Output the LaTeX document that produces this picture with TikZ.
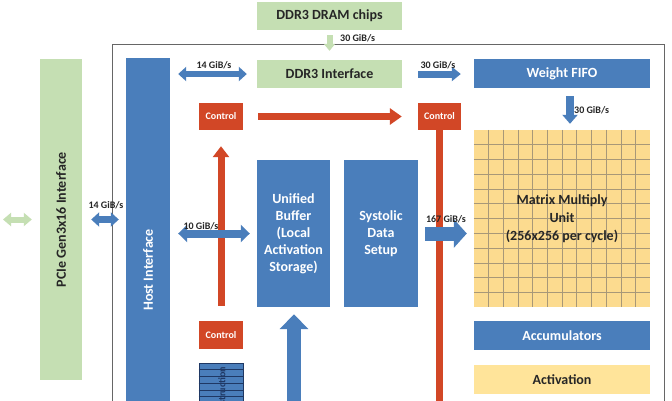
\documentclass[tikz,border=0pt]{standalone}
\usepackage{fontspec}
\setmainfont{Carlito}
\usetikzlibrary{arrows.meta,calc}
\definecolor{bblue}{HTML}{4A7EBB}
\definecolor{lgreen}{HTML}{C5DFB3}
\definecolor{myyel}{HTML}{FCDB8F}
\definecolor{actyel}{HTML}{FFE49A}
\definecolor{cred}{HTML}{D24726}
\definecolor{gridc}{HTML}{A89878}
\definecolor{dtext}{HTML}{262626}
\definecolor{dblue}{HTML}{1F3864}
\begin{document}
\begin{tikzpicture}[x=1pt,y=-1pt,
  box/.style={inner sep=0pt, align=center, font=\bfseries\fontsize{14}{17}\selectfont},
  bbox/.style={box, fill=bblue, text=white},
  gbox/.style={box, fill=lgreen, text=dtext},
  ybox/.style={box, fill=actyel, text=dtext},
  ctl/.style={inner sep=0pt, fill=cred, text=white, font=\bfseries\fontsize{10}{11}\selectfont, minimum width=44pt, minimum height=27pt},
  lbl/.style={inner sep=0pt, text=dtext, font=\bfseries\fontsize{10}{11}\selectfont},
  ba/.style args={#1/#2/#3/#4}{draw=#4, line width=#1, -{Triangle[width=#2,length=#3]}},
  bda/.style args={#1/#2/#3/#4}{draw=#4, line width=#1, {Triangle[width=#2,length=#3]}-{Triangle[width=#2,length=#3]}},
]
\useasboundingbox (0,0) rectangle (672,400);
\clip (0,0) rectangle (672,400);
\fill[white] (0,0) rectangle (672,400);

% outer frame
\draw[gray!80!black, line width=0.8pt] (112,44) rectangle (664,430);

% top memory
\node[gbox, minimum width=145pt, minimum height=28pt] (dram) at (329.5,16) {DDR3 DRAM chips};
\node[gbox, minimum width=145pt, minimum height=28pt] (ddr) at (329.5,74) {DDR3 Interface};

% PCIe and host
\node[fill=lgreen, inner sep=0pt, minimum width=42pt, minimum height=321pt] (pcie) at (61,219.5) {};
\node[box, rotate=90, text=dtext] (pcielbl) at (pcie.center) {PCIe Gen3x16 Interface};
\node[fill=bblue, inner sep=0pt, minimum width=44pt, minimum height=372pt] (host) at (148,244) {};
\node[box, rotate=90, text=white] (hostlbl) at (148,270) {Host Interface};

% right column
\node[bbox, minimum width=176pt, minimum height=29pt] (wfifo) at (562,73.5) {Weight FIFO};
\node[fill=myyel, inner sep=0pt, minimum width=176pt, minimum height=177pt] (mmu) at (562,218.5) {};
\foreach \i in {1,...,11} {
  \draw[gridc, line width=0.5pt] ($(mmu.north west)!\i/12!(mmu.north east)$) -- ($(mmu.south west)!\i/12!(mmu.south east)$);
  \draw[gridc, line width=0.5pt] ($(mmu.north west)!\i/12!(mmu.south west)$) -- ($(mmu.north east)!\i/12!(mmu.south east)$);
}
\node[box, text=dtext, font=\bfseries\fontsize{14}{18}\selectfont] (mmulbl) at (562,219) {Matrix Multiply\\Unit\\(256x256 per cycle)};
\node[bbox, minimum width=176pt, minimum height=29pt] (acc) at (562,335.5) {Accumulators};
\node[ybox, minimum width=176pt, minimum height=29pt] (act) at (562,379.5) {Activation};

% middle blocks
\node[bbox, minimum width=73pt, minimum height=147pt] (ub) at (293.5,233.5) {Unified\\Buffer\\(Local\\Activation\\Storage)};
\node[bbox, minimum width=74pt, minimum height=147pt] (sds) at (381,233.5) {Systolic\\Data\\Setup};

% controls
\node[ctl] (ctl1) at (221,116.5) {Control};
\node[ctl, minimum width=43pt] (ctl2) at (439.5,116.5) {Control};
\node[ctl, minimum height=28pt] (ctl3) at (221,335) {Control};

% instruction buffer
\node[fill=bblue, draw=dblue, line width=0.6pt, inner sep=0pt, minimum width=44pt, minimum height=70pt, anchor=north] (ibuf) at (221,363) {};
\foreach \k in {1,...,8} {
  \draw[dblue, line width=0.6pt] ($(ibuf.north west)+(0,{\k*6.7})$) -- ($(ibuf.north east)+(0,{\k*6.7})$);
}
\node[inner sep=0pt, rotate=90, anchor=east, text=dblue, font=\bfseries\fontsize{10}{11}\selectfont] (ibuflbl) at (222,367) {Instruction};

% red connectors
\coordinate (redend) at (439.5,420);
\draw[cred, line width=7pt] (ctl2.south) -- (redend);
\draw[ba=7pt/16pt/12pt/cred] ([xshift=15pt]ctl1.east) -- ([xshift=-16pt]ctl2.west);
\draw[ba=7pt/16pt/11pt/cred] ([yshift=15pt]ctl3.north) -- ([yshift=-16pt]ctl1.south);

% green connectors
\coordinate (pleft) at (3,219.5);
\draw[bda=6pt/13pt/8pt/lgreen] (pleft) -- ([xshift=-8pt]pcie.west);
\draw[ba=6pt/11pt/7pt/lgreen] ([yshift=-5pt]dram.south) -- ([yshift=9pt]ddr.north);
\node[lbl, anchor=west] (l30a) at (340,38) {30 GiB/s};

% blue connectors
\draw[bda=7pt/14pt/8pt/bblue] ([xshift=9pt]pcie.east) -- ([xshift=-7pt]host.west |- pcie.east);
\node[lbl] (l14a) at (106,205) {14 GiB/s};

\draw[bda=6pt/14pt/8pt/bblue] ([xshift=8pt]host.east |- ddr.west) -- ([xshift=-10pt]ddr.west);
\node[lbl] (l14b) at (214,65) {14 GiB/s};

\draw[ba=7pt/14pt/9pt/bblue] ([xshift=16pt]ddr.east) -- ([xshift=-13pt]wfifo.west |- ddr.east);
\node[lbl] (l30b) at (438,65) {30 GiB/s};

\draw[ba=8pt/15pt/9pt/bblue] ([xshift=8pt,yshift=-8pt]wfifo.south) -- ([xshift=8pt,yshift=6pt]mmu.north);
\node[lbl, anchor=west] (l30c) at (574,110) {30 GiB/s};

\draw[bda=8pt/17pt/9pt/bblue] ([xshift=8pt]host.east |- ub.west) -- ([xshift=-7pt]ub.west);
\node[lbl] (l10) at (201,226) {10 GiB/s};

\draw[ba=14pt/28pt/13pt/bblue] ([xshift=7pt]sds.east) -- ([xshift=-7pt]mmu.west |- sds.east);
\node[lbl] (l167) at (446,219) {167 GiB/s};

\coordinate (upbot) at (294,420);
\draw[ba=14pt/28pt/15pt/bblue] (upbot) -- ([yshift=-7pt]ub.south -| upbot);
\end{tikzpicture}
\end{document}
